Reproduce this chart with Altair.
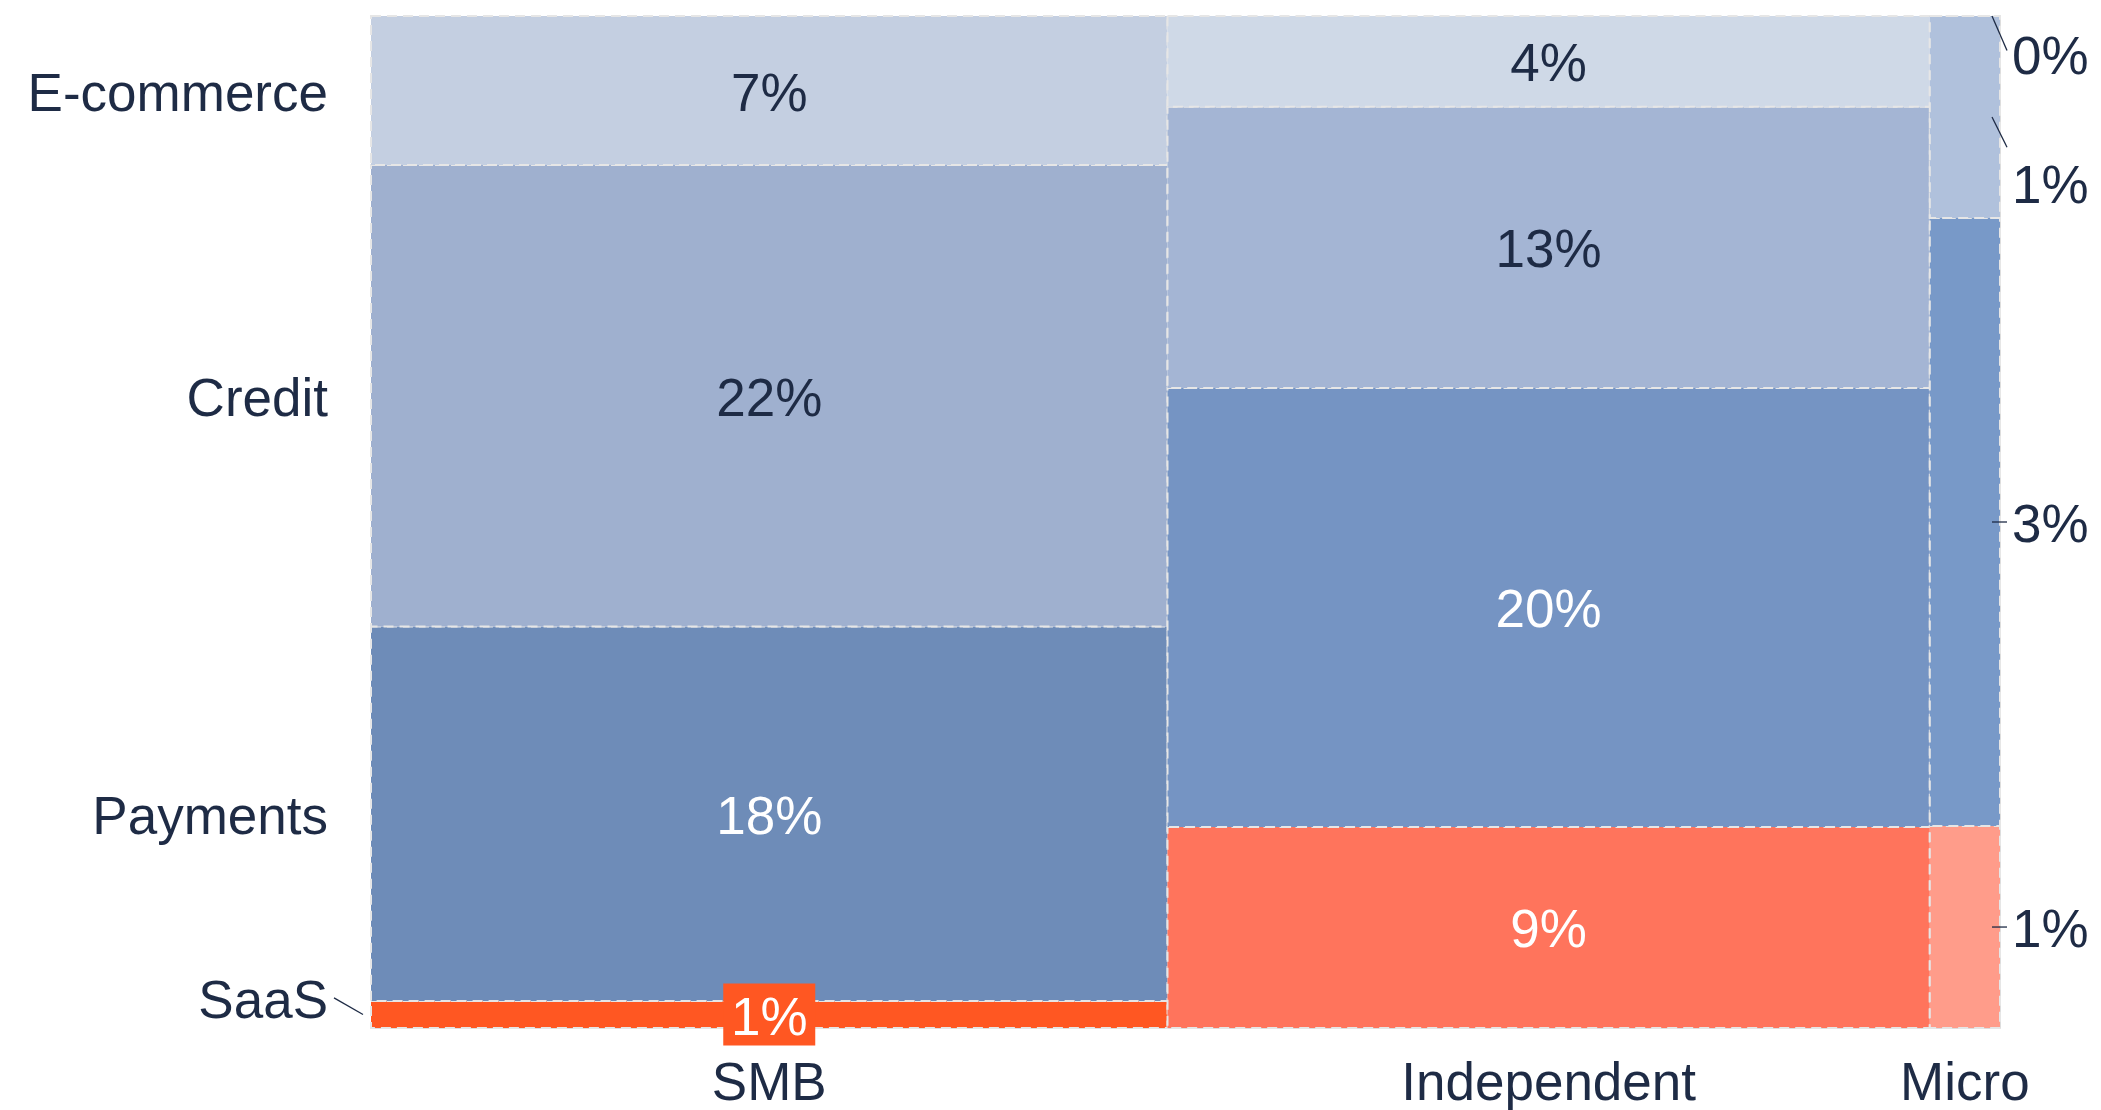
import altair as alt
import pandas as pd

# ---- data ----
columns = ["SMB", "Independent", "Micro"]
segments = ["SaaS", "Payments", "Credit", "E-commerce"]  # bottom to top
smb = [1.3, 18.1, 22.3, 7.2]
independent = [9.3, 20.3, 13.0, 4.2]
micro = [0.86, 2.59, 0.86, 0.0]
values = [smb, independent, micro]

# ---- styles ----
cell_colors = {
    ("SMB", "SaaS"): "#ff5722", ("SMB", "Payments"): "#6e8cb8",
    ("SMB", "Credit"): "#9fb0cf", ("SMB", "E-commerce"): "#c4cfe1",
    ("Independent", "SaaS"): "#ff745c", ("Independent", "Payments"): "#7594c3",
    ("Independent", "Credit"): "#a4b5d4", ("Independent", "E-commerce"): "#cfd9e7",
    ("Micro", "SaaS"): "#ff9c8a", ("Micro", "Payments"): "#7899c8",
    ("Micro", "Credit"): "#b0c1dc", ("Micro", "E-commerce"): "#d8e1ee",
}
DARK = "#1e2b45"
FONT = "Liberation Sans"
FS = 53
TDY = 4
# label nudges (in percent-of-column units) for crowded labels
left_nudge = {"SaaS": 1.65}
right_label_nudge = {"E-commerce": -3.8, "Credit": -6.5}
right_lead_nudge = {"E-commerce": -3.1, "Credit": -3.0}

# ---- build table ----
grand = sum(sum(v) for v in values)
rows = []
xcur = 0.0
for col, vals in zip(columns, values):
    tot = sum(vals)
    w = tot / grand * 100
    ycur = 0.0
    for seg, v in zip(segments, vals):
        h = v / tot * 100
        rows.append(dict(column=col, segment=seg, value=v,
                         label=f"{round(v)}%",
                         cell=f"{col}|{seg}",
                         x0=xcur, x1=xcur + w, xm=xcur + w / 2,
                         y0=ycur, y1=ycur + h, ym=ycur + h / 2))
        ycur += h
    xcur += w
df = pd.DataFrame(rows)
df["left_y"] = df["ym"] + df["segment"].map(left_nudge).fillna(0)
df["right_y"] = df["ym"] + df["segment"].map(right_label_nudge).fillna(0)
df["lead_y"] = df["ym"] + df["segment"].map(right_lead_nudge).fillna(0)
df.loc[(df.column == "Micro") & (df.segment == "E-commerce"), ["right_y", "lead_y"]] = [96.2, 96.6]

cell_ids = [f"{c}|{s}" for (c, s) in cell_colors]
cell_range = list(cell_colors.values())

W, H = 1629, 1012
xs = alt.Scale(domain=[0, 100], nice=False, zero=False)
ys = alt.Scale(domain=[0, 100], nice=False, zero=False)
X = lambda f: alt.X(f"{f}:Q", scale=xs, axis=None)
Y = lambda f: alt.Y(f"{f}:Q", scale=ys, axis=None)

base = alt.Chart(df)

rects = base.mark_rect(stroke="#e6e6e6", strokeWidth=2, strokeDash=[10, 6]).encode(
    x=X("x0"), x2="x1", y=Y("y0"), y2="y1",
    color=alt.Color("cell:N", scale=alt.Scale(domain=cell_ids, range=cell_range), legend=None),
)

inner = base.transform_filter(
    "datum.column != 'Micro' && !(datum.column == 'SMB' && datum.segment == 'SaaS')"
).mark_text(font=FONT, fontSize=FS, baseline="middle", align="center", dy=TDY).encode(
    x=X("xm"), y=Y("ym"), text="label:N",
    color=alt.condition(
        alt.FieldOneOfPredicate(field="segment", oneOf=["Credit", "E-commerce"]),
        alt.value(DARK), alt.value("white")),
)

small = base.transform_filter("datum.column == 'SMB' && datum.segment == 'SaaS'")
box = small.mark_point(shape="M-1,-0.674L1,-0.674L1,0.674L-1,0.674Z", size=8464,
                       filled=True, opacity=1, color="#ff5722", strokeWidth=0).encode(
    x=X("xm"), y=Y("ym"))
box_text = small.mark_text(font=FONT, fontSize=FS, baseline="middle", align="center",
                           dy=TDY, color="white").encode(x=X("xm"), y=Y("ym"), text="label:N")

smb_rows = base.transform_filter("datum.column == 'SMB'")
left_labels = smb_rows.mark_text(font=FONT, fontSize=FS, baseline="middle", align="right",
                                 dx=-43, dy=TDY, color=DARK).encode(
    x=X("x0"), y=Y("left_y"), text="segment:N")
left_lead = smb_rows.transform_filter("datum.segment == 'SaaS'").mark_rule(
    color=DARK, strokeWidth=1.3, xOffset=-37, x2Offset=-8).encode(
    x=X("x0"), x2="x0", y=Y("left_y"), y2="ym")

cols_df = df.groupby("column", sort=False).agg(xm=("xm", "first")).reset_index()
cols_df["yb"] = 0.0
bottom_labels = alt.Chart(cols_df).mark_text(font=FONT, fontSize=FS, baseline="middle",
                                             align="center", dy=52 + TDY, color=DARK).encode(
    x=X("xm"), y=Y("yb"), text="column:N")

micro_rows = base.transform_filter("datum.column == 'Micro'")
right_labels = micro_rows.mark_text(font=FONT, fontSize=FS, baseline="middle", align="left",
                                    dx=12, dy=TDY, color=DARK).encode(
    x=X("x1"), y=Y("right_y"), text="label:N")
right_lead = micro_rows.mark_rule(color=DARK, strokeWidth=1.3, xOffset=-8, x2Offset=7).encode(
    x=X("x1"), x2="x1", y=Y("ym"), y2="lead_y")

chart = alt.layer(rects, inner, box, box_text, left_labels, left_lead, bottom_labels,
                  right_labels, right_lead).properties(
    width=W, height=H,
    autosize=alt.AutoSizeParams(type="none"),
    padding={"left": 363, "top": 8, "right": 93, "bottom": 82},
).configure_view(stroke=None).configure(background="white")

chart.save("out.html", embed_options={"renderer": "svg", "actions": False})
